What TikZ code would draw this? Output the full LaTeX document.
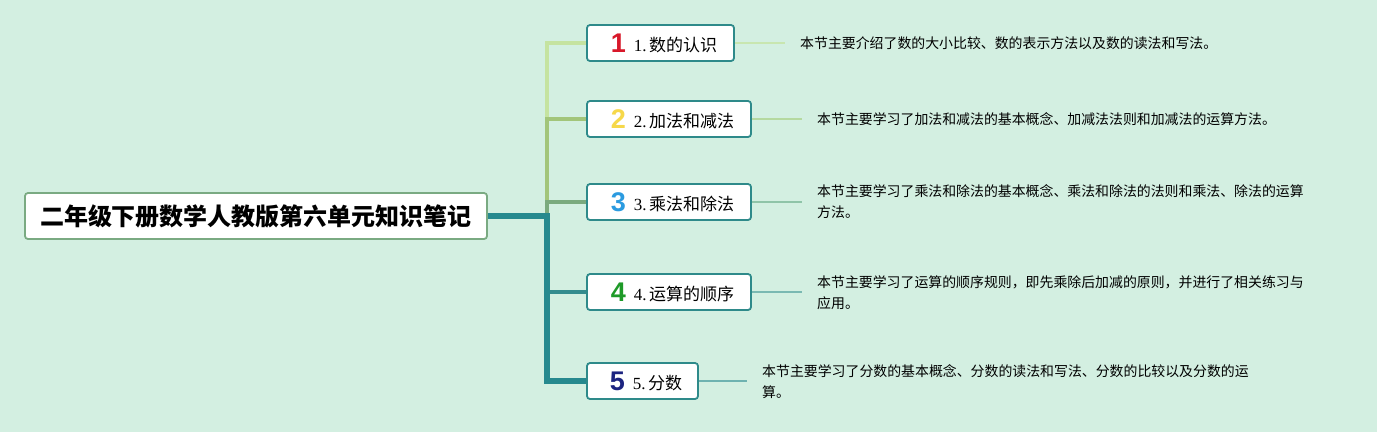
\documentclass[tikz,border=0pt]{standalone}
\usepackage{fontspec}
\setmainfont{Liberation Serif}
\newfontfamily\cjk{Noto Sans CJK SC}
\newfontfamily\numfont{Liberation Sans}
\definecolor{bg}{RGB}{211,239,225}
\definecolor{boxc}{RGB}{46,138,138}
\definecolor{rootc}{RGB}{122,170,130}
\definecolor{bra}{RGB}{197,227,160}
\definecolor{brb}{RGB}{162,197,122}
\definecolor{brc}{RGB}{122,170,126}
\definecolor{brd}{RGB}{52,140,142}
\definecolor{bre}{RGB}{38,137,142}
\definecolor{lna}{RGB}{200,230,176}
\definecolor{lnb}{RGB}{181,217,160}
\definecolor{lnc}{RGB}{143,196,168}
\definecolor{lnd}{RGB}{122,185,178}
\definecolor{lne}{RGB}{110,178,176}
\definecolor{na}{RGB}{216,24,42}
\definecolor{nb}{RGB}{246,216,74}
\definecolor{nc}{RGB}{43,155,224}
\definecolor{nd}{RGB}{30,154,40}
\definecolor{ne}{RGB}{28,36,128}
\newcommand\dig[2]{\raisebox{-1pt}{\numfont\bfseries\fontsize{27}{27}\selectfont\color{#1}#2}}
\begin{document}
\begin{tikzpicture}[x=1pt,y=-1pt,
  rootbox/.style={draw=rootc, line width=1.8pt, fill=white, rounded corners=3pt,
    minimum width=462pt, minimum height=46pt, inner sep=0pt,
    font=\cjk\bfseries\fontsize{24}{28}\selectfont},
  topic/.style={draw=boxc, line width=1.8pt, fill=white, rounded corners=3pt,
    minimum height=36pt, inner sep=0pt, font=\fontsize{17}{20}\selectfont},
  detail/.style={anchor=west, inner sep=0pt, align=left,
    font=\cjk\fontsize{13.9}{21}\selectfont},
  branch/.style={line join=miter},
  lnk/.style={line width=1.5pt, shorten >=15pt}]
\fill[bg] (0,0) rectangle (1377,432);
\useasboundingbox (0,0) rectangle (1377,432);

\node[rootbox] (root) at (256,216) {二年级下册数学人教版第六单元知识笔记};
\coordinate (j) at (547,216);

\node[topic, minimum width=147pt] (b1) at (660.5,43) {\hspace*{7pt}\dig{na}{1}\hspace{8pt}1.\hspace{2.5pt}{\cjk 数的认识}};
\node[topic, minimum width=164pt] (b2) at (669,119) {\hspace*{7pt}\dig{nb}{2}\hspace{8pt}2.\hspace{2.5pt}{\cjk 加法和减法}};
\node[topic, minimum width=164pt] (b3) at (669,202) {\hspace*{7pt}\dig{nc}{3}\hspace{8pt}3.\hspace{2.5pt}{\cjk 乘法和除法}};
\node[topic, minimum width=164pt] (b4) at (669,292) {\hspace*{7pt}\dig{nd}{4}\hspace{8pt}4.\hspace{2.5pt}{\cjk 运算的顺序}};
\node[topic, minimum width=111pt] (b5) at (642.5,381) {\hspace*{7pt}\dig{ne}{5}\hspace{8pt}5.\hspace{2.5pt}{\cjk 分数}};

\node[detail] (d1) at (800,43) {本节主要介绍了数的大小比较、数的表示方法以及数的读法和写法。};
\node[detail] (d2) at (817,119) {本节主要学习了加法和减法的基本概念、加减法法则和加减法的运算方法。};
\node[detail] (d3) at (817,202) {本节主要学习了乘法和除法的基本概念、乘法和除法的法则和乘法、除法的运算\\方法。};
\node[detail] (d4) at (817,293) {本节主要学习了运算的顺序规则，即先乘除后加减的原则，并进行了相关练习与\\应用。};
\node[detail] (d5) at (762,382) {本节主要学习了分数的基本概念、分数的读法和写法、分数的比较以及分数的运\\算。};

\draw[branch, bra, line width=3.5pt] (j) |- (b1.west);
\draw[branch, brb, line width=4pt] (j) |- (b2.west);
\draw[branch, brc, line width=4pt] (j) |- (b3.west);
\draw[branch, brd, line width=4.5pt] (j) |- (b4.west);
\draw[branch, bre, line width=5.5pt] (root.east) -- (j) |- (b5.west);

\draw[lnk, lna] (b1.east) -- (b1.east -| d1.west);
\draw[lnk, lnb] (b2.east) -- (b2.east -| d2.west);
\draw[lnk, lnc] (b3.east) -- (b3.east -| d3.west);
\draw[lnk, lnd] (b4.east) -- (b4.east -| d4.west);
\draw[lnk, lne] (b5.east) -- (b5.east -| d5.west);
\end{tikzpicture}
\end{document}
